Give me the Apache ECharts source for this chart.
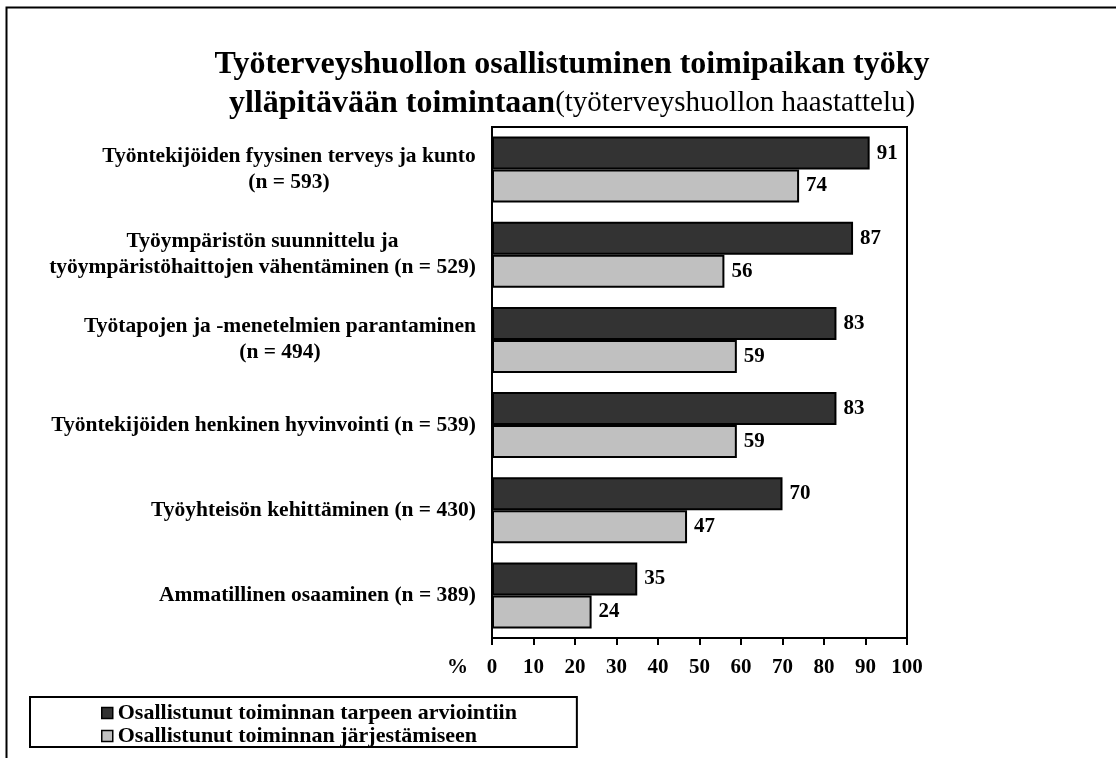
<!DOCTYPE html>
<html>
<head>
<meta charset="utf-8">
<script src="https://cdn.jsdelivr.net/npm/echarts@6/dist/echarts.min.js"></script>
<style>
  html, body { margin: 0; padding: 0; background: #ffffff; }
  #chart { width: 1116px; height: 758px; }
</style>
</head>
<body>
<div id="chart"></div>
<script>
// Activity areas (two-line labels are split with \n)
const categories = [
  'Työntekijöiden fyysinen terveys ja kunto\n(n = 593)',
  'Työympäristön suunnittelu ja\ntyöympäristöhaittojen vähentäminen (n = 529)',
  'Työtapojen ja -menetelmien parantaminen\n(n = 494)',
  'Työntekijöiden henkinen hyvinvointi (n = 539)',
  'Työyhteisön kehittäminen (n = 430)',
  'Ammatillinen osaaminen (n = 389)'
];
const seriesNames = [
  'Osallistunut toiminnan tarpeen arviointiin',
  'Osallistunut toiminnan järjestämiseen'
];
// Percentages
const needAssessment = [91, 87, 83, 83, 70, 35];
const organising = [74, 56, 59, 59, 47, 24];
const axisMin = 0;
const axisMax = 100;
const axisStep = 10;

const FONT = '"Liberation Serif", "Times New Roman", serif';
const LABEL_SIZE = 21.5;
const TICK_SIZE = 21;

// Measure label lines so multi-line labels are centred inside their own block
const ctx = document.createElement('canvas').getContext('2d');
ctx.font = 'bold ' + LABEL_SIZE + 'px ' + FONT;
const labelRich = {};
categories.forEach(function (c, i) {
  const w = Math.max.apply(null, c.split('\n').map(function (l) { return ctx.measureText(l).width; }));
  labelRich['l' + i] = {
    width: Math.ceil(w), align: 'center',
    fontFamily: FONT, fontWeight: 'bold', fontSize: LABEL_SIZE, color: '#000', lineHeight: 26
  };
});

const chart = echarts.init(document.getElementById('chart'), null, { renderer: 'canvas' });

const barLabel = {
  show: true, position: 'right', distance: 7,
  fontFamily: FONT, fontWeight: 'bold', fontSize: TICK_SIZE, color: '#000'
};

chart.setOption({
  backgroundColor: '#ffffff',
  animation: false,
  title: {
    left: 567, top: 40, textAlign: 'center',
    text: '{a|Työterveyshuollon osallistuminen toimipaikan työky}\n{a|ylläpitävään toimintaan}{b|(työterveyshuollon haastattelu)}',
    textStyle: {
      rich: {
        a: { fontFamily: FONT, fontWeight: 'bold', fontSize: 32, color: '#000', lineHeight: 39 },
        b: { fontFamily: FONT, fontWeight: 'normal', fontSize: 29, color: '#000', lineHeight: 39 }
      }
    }
  },
  legend: {
    data: seriesNames,
    orient: 'vertical',
    left: 30, top: 697,
    padding: [5, 60, 0, 71],
    itemGap: 1,
    itemWidth: 11, itemHeight: 11,
    icon: 'rect',
    borderColor: '#000', borderWidth: 2,
    itemStyle: { borderColor: '#000', borderWidth: 1.5 },
    textStyle: { fontFamily: FONT, fontWeight: 'bold', fontSize: 22, lineHeight: 20, color: '#000' }
  },
  grid: {
    left: 492, right: 209, top: 127, bottom: 120,
    show: true, borderColor: '#000', borderWidth: 2, backgroundColor: 'transparent'
  },
  xAxis: {
    type: 'value', min: axisMin, max: axisMax, interval: axisStep,
    axisLine: { show: true, lineStyle: { color: '#000', width: 2 } },
    axisTick: { show: true, length: 7, lineStyle: { color: '#000', width: 2 } },
    splitLine: { show: false },
    axisLabel: { margin: 19, fontFamily: FONT, fontWeight: 'bold', fontSize: TICK_SIZE, color: '#000' }
  },
  yAxis: {
    type: 'category', data: categories, inverse: true,
    axisLine: { show: true, lineStyle: { color: '#000', width: 2 } },
    axisTick: { show: false },
    axisLabel: {
      margin: 16, align: 'right',
      formatter: function (v, i) {
        return v.split('\n').map(function (l) { return '{l' + i + '|' + l + '}'; }).join('\n');
      },
      rich: labelRich
    }
  },
  series: [
    {
      name: seriesNames[0], type: 'bar', data: needAssessment,
      barCategoryGap: '22.6%', barGap: '0%',
      itemStyle: { color: '#333333', borderColor: '#000', borderWidth: 2 },
      label: barLabel
    },
    {
      name: seriesNames[1], type: 'bar', data: organising,
      barCategoryGap: '22.6%', barGap: '0%',
      itemStyle: { color: '#c0c0c0', borderColor: '#000', borderWidth: 2 },
      label: barLabel
    }
  ],
  graphic: [
    {
      type: 'rect', left: 4, top: 5, silent: true,
      shape: { width: 1200, height: 800 },
      style: { fill: 'none', stroke: '#000', lineWidth: 2 }
    },
    {
      type: 'text', left: 447, top: 657, silent: true,
      style: { text: '%', fontFamily: FONT, fontWeight: 'bold', fontSize: TICK_SIZE, fill: '#000' }
    }
  ]
});
</script>
</body>
</html>
